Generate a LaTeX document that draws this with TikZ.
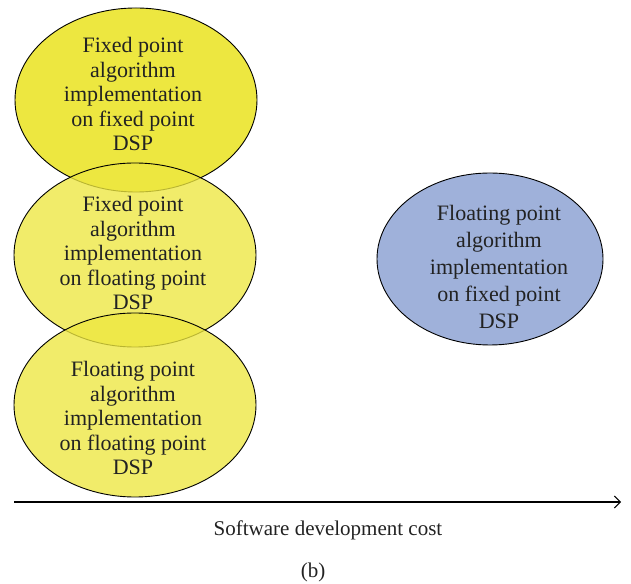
\documentclass[tikz,border=0pt]{standalone}
\usepackage{fontspec}
\setmainfont{Liberation Serif}
\usetikzlibrary{shapes.geometric,arrows.meta}
\definecolor{dspyellow}{RGB}{237,231,64}
\definecolor{dspblue}{RGB}{159,177,218}
\definecolor{inkgray}{RGB}{34,34,34}
\tikzset{
  x=1pt, y=1pt,
  yblob/.style={ellipse, draw=black, line width=0.9pt, fill=dspyellow,
    minimum width=242pt, minimum height=184pt, inner sep=0pt},
  seethrough/.style={fill opacity=0.78},
  bblob/.style={ellipse, draw=black, line width=0.9pt, fill=dspblue,
    minimum width=226pt, minimum height=172pt, inner sep=0pt},
  blobtext/.style={align=center, text=inkgray, inner sep=0pt,
    font=\fontsize{22}{24.5}\selectfont},
  wideblobtext/.style={blobtext, font=\fontsize{22}{27}\selectfont},
  axislabel/.style={text=inkgray, inner sep=0pt,
    font=\fontsize{21}{24}\selectfont},
  axisline/.style={line width=2pt, -{Straight Barb[length=6pt,width=12pt,line width=1pt]}},
}
\begin{document}
\begin{tikzpicture}
  \useasboundingbox (0,0) rectangle (631,583);
  % three yellow ellipses, stacked, each later one partly see-through
  \node[yblob] (fixfix) at (136,483) {};
  \node[yblob, seethrough] (fixflo) at (135,328) {};
  \node[yblob, seethrough] (floflo) at (135,178) {};
  % blue ellipse on the right
  \node[bblob] (flofix) at (490,324) {};
  % texts inside the ellipses
  \node[blobtext] (tfixfix) at (133,489) {Fixed point\\algorithm\\implementation\\on fixed point\\DSP};
  \node[blobtext] (tfixflo) at (133,330) {Fixed point\\algorithm\\implementation\\on floating point\\DSP};
  \node[blobtext] (tfloflo) at (133,165) {Floating point\\algorithm\\implementation\\on floating point\\DSP};
  \node[wideblobtext] (tflofix) at (499,316) {Floating point\\algorithm\\implementation\\on fixed point\\DSP};
  % cost axis
  \coordinate (axstart) at (14,81);
  \coordinate (axend) at (621,81);
  \draw[axisline] (axstart) -- (axend);
  \node[axislabel] (axname) at (328,53) {Software development cost};
  \node[axislabel] (panel) at (313,11) {(b)};
\end{tikzpicture}
\end{document}
